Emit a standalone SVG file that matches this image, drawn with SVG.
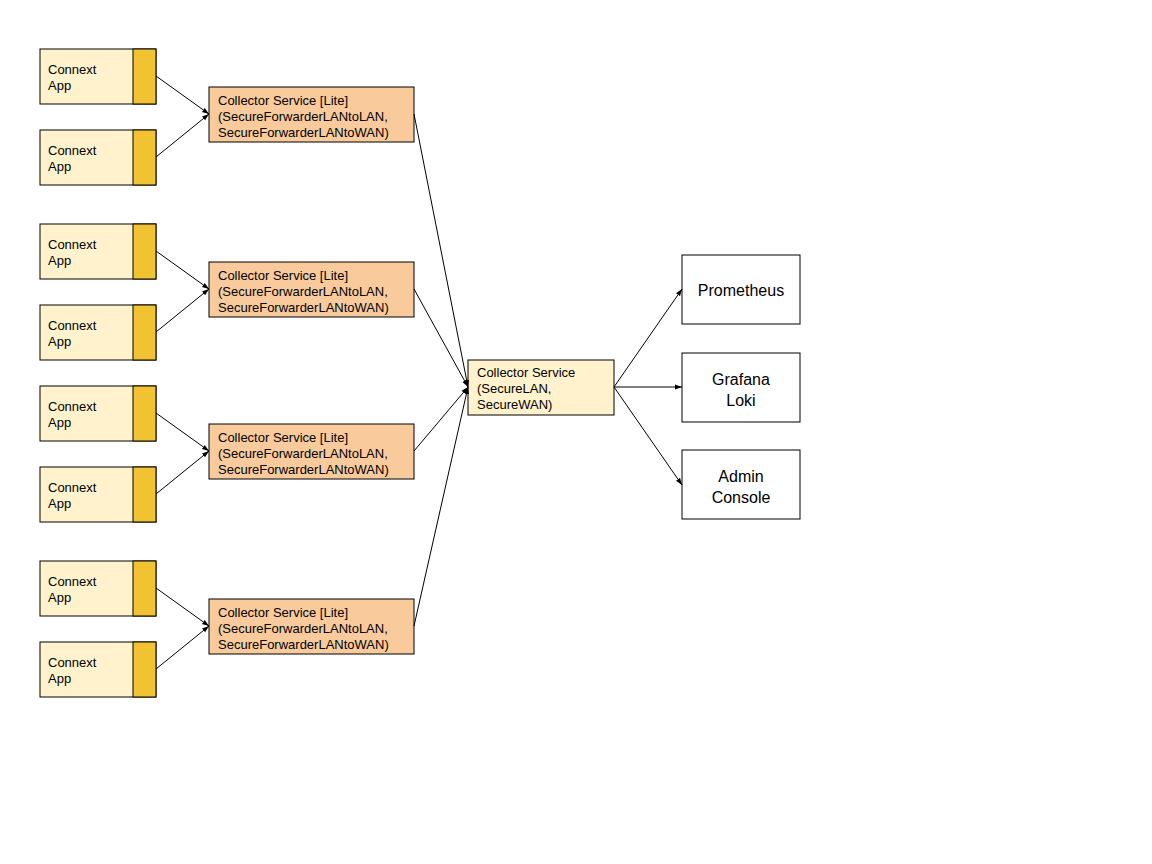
<svg xmlns="http://www.w3.org/2000/svg" width="1152" height="864" viewBox="0 0 1152 864">
<style>
.app{fill:#fff2cc;stroke:#000;stroke-width:1}
.bar{fill:#f1c232;stroke:#000;stroke-width:1}
.lite{fill:#f9cb9c;stroke:#000;stroke-width:1}
.ctr{fill:#fff2cc;stroke:#000;stroke-width:1}
.out{fill:#fff;stroke:#000;stroke-width:1}
text{font-family:"Liberation Sans",Arial,sans-serif;fill:#000}
.s{font-size:13px}
.l{font-size:16px;text-anchor:middle}
.e{fill:none;stroke:#000;stroke-width:1;marker-end:url(#a)}
</style>
<defs><marker id="a" viewBox="0 0 10 10" refX="10" refY="5" markerWidth="7" markerHeight="7" orient="auto"><path d="M0,1.5L10,5L0,8.5z" fill="#000"/></marker></defs>
<rect width="1152" height="864" fill="#fff"/>
<g id="app1"><rect class="app" x="40" y="49" width="116" height="55"/><rect class="bar" x="133" y="49" width="23" height="55"/><text class="s" x="48" y="74">Connext</text><text class="s" x="48" y="90">App</text></g>
<g id="app2"><rect class="app" x="40" y="130" width="116" height="55"/><rect class="bar" x="133" y="130" width="23" height="55"/><text class="s" x="48" y="155">Connext</text><text class="s" x="48" y="171">App</text></g>
<g id="app3"><rect class="app" x="40" y="224" width="116" height="55"/><rect class="bar" x="133" y="224" width="23" height="55"/><text class="s" x="48" y="249">Connext</text><text class="s" x="48" y="265">App</text></g>
<g id="app4"><rect class="app" x="40" y="305" width="116" height="55"/><rect class="bar" x="133" y="305" width="23" height="55"/><text class="s" x="48" y="330">Connext</text><text class="s" x="48" y="346">App</text></g>
<g id="app5"><rect class="app" x="40" y="386" width="116" height="55"/><rect class="bar" x="133" y="386" width="23" height="55"/><text class="s" x="48" y="411">Connext</text><text class="s" x="48" y="427">App</text></g>
<g id="app6"><rect class="app" x="40" y="467" width="116" height="55"/><rect class="bar" x="133" y="467" width="23" height="55"/><text class="s" x="48" y="492">Connext</text><text class="s" x="48" y="508">App</text></g>
<g id="app7"><rect class="app" x="40" y="561" width="116" height="55"/><rect class="bar" x="133" y="561" width="23" height="55"/><text class="s" x="48" y="586">Connext</text><text class="s" x="48" y="602">App</text></g>
<g id="app8"><rect class="app" x="40" y="642" width="116" height="55"/><rect class="bar" x="133" y="642" width="23" height="55"/><text class="s" x="48" y="667">Connext</text><text class="s" x="48" y="683">App</text></g>
<g id="lite1"><rect class="lite" x="209" y="87" width="205" height="55"/><text class="s" x="218" y="105">Collector Service [Lite]</text><text class="s" x="218" y="121">(SecureForwarderLANtoLAN,</text><text class="s" x="218" y="137">SecureForwarderLANtoWAN)</text></g>
<g id="lite2"><rect class="lite" x="209" y="262" width="205" height="55"/><text class="s" x="218" y="280">Collector Service [Lite]</text><text class="s" x="218" y="296">(SecureForwarderLANtoLAN,</text><text class="s" x="218" y="312">SecureForwarderLANtoWAN)</text></g>
<g id="lite3"><rect class="lite" x="209" y="424" width="205" height="55"/><text class="s" x="218" y="442">Collector Service [Lite]</text><text class="s" x="218" y="458">(SecureForwarderLANtoLAN,</text><text class="s" x="218" y="474">SecureForwarderLANtoWAN)</text></g>
<g id="lite4"><rect class="lite" x="209" y="599" width="205" height="55"/><text class="s" x="218" y="617">Collector Service [Lite]</text><text class="s" x="218" y="633">(SecureForwarderLANtoLAN,</text><text class="s" x="218" y="649">SecureForwarderLANtoWAN)</text></g>
<g id="center"><rect class="ctr" x="468" y="360" width="146" height="55"/><text class="s" x="477" y="377">Collector Service</text><text class="s" x="477" y="393">(SecureLAN,</text><text class="s" x="477" y="409">SecureWAN)</text></g>
<g id="prom"><rect class="out" x="682" y="255" width="118" height="69"/><text class="l" x="741" y="296">Prometheus</text></g>
<g id="loki"><rect class="out" x="682" y="353" width="118" height="69"/><text class="l" x="741" y="385">Grafana</text><text class="l" x="741" y="406">Loki</text></g>
<g id="admin"><rect class="out" x="682" y="450" width="118" height="69"/><text class="l" x="741" y="482">Admin</text><text class="l" x="741" y="503">Console</text></g>
<g id="connectors">
<line class="e" x1="156" y1="76" x2="209" y2="114"/><line class="e" x1="156" y1="157" x2="209" y2="114"/>
<line class="e" x1="156" y1="251" x2="209" y2="289"/><line class="e" x1="156" y1="332" x2="209" y2="289"/>
<line class="e" x1="156" y1="413" x2="209" y2="451"/><line class="e" x1="156" y1="494" x2="209" y2="451"/>
<line class="e" x1="156" y1="588" x2="209" y2="626"/><line class="e" x1="156" y1="669" x2="209" y2="626"/>
<line class="e" x1="414" y1="114" x2="468" y2="387"/><line class="e" x1="414" y1="289" x2="468" y2="387"/>
<line class="e" x1="414" y1="451" x2="468" y2="387"/><line class="e" x1="414" y1="626" x2="468" y2="387"/>
<line class="e" x1="614" y1="387" x2="682" y2="289"/><line class="e" x1="614" y1="387" x2="682" y2="387"/><line class="e" x1="614" y1="387" x2="682" y2="485"/>
</g>
</svg>
